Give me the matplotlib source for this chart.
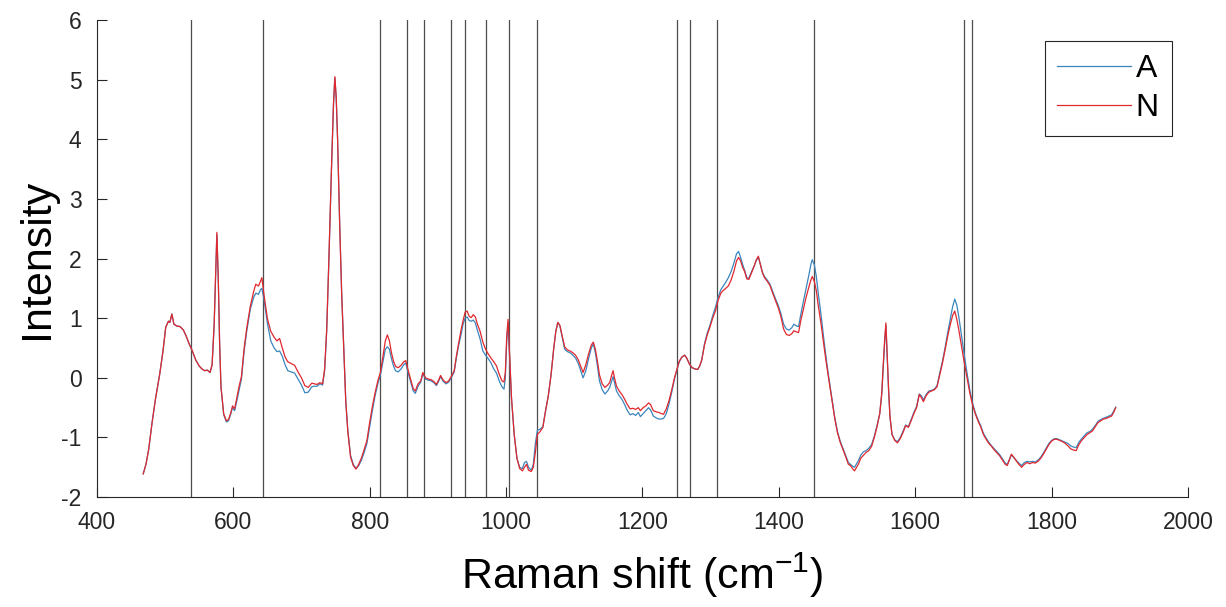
import numpy as np
import matplotlib.pyplot as plt

plt.rcParams['font.family'] = ['Liberation Sans', 'DejaVu Sans']
plt.rcParams['mathtext.default'] = 'regular'
plt.rcParams['axes.unicode_minus'] = False

# Raman shift (cm^-1)
shift = np.array([
    468, 472, 476, 481, 486, 492, 497, 501, 505, 507,
    510, 513, 517, 522, 527, 531, 535, 540, 545, 550,
    554, 558, 562, 566, 569, 572, 574, 576, 578, 580,
    582, 586, 590, 593, 596, 599, 602, 605, 609, 612,
    616, 620, 625, 630, 633, 637, 640, 642, 645, 650,
    655, 660, 664, 668, 672, 676, 680, 685, 690, 695,
    700, 705, 710, 715, 719, 723, 727, 731, 734, 737,
    740, 744, 747, 749, 751, 753, 756, 759, 762, 765,
    768, 772, 776, 780, 784, 788, 792, 796, 800, 804,
    808, 812, 816, 820, 823, 826, 829, 832, 835, 838,
    842, 846, 850, 853, 856, 860, 864, 867, 871, 875,
    878, 882, 886, 890, 894, 898, 901, 904, 908, 912,
    916, 920, 924, 927, 930, 934, 937, 940, 943, 946,
    949, 952, 955, 958, 962, 966, 970, 974, 978, 982,
    986, 990, 994, 997, 999, 1001, 1003, 1005, 1008, 1012,
    1016, 1020, 1024, 1027, 1030, 1033, 1037, 1040, 1043, 1046,
    1050, 1054, 1058, 1062, 1066, 1070, 1073, 1076, 1079, 1082,
    1086, 1090, 1094, 1098, 1102, 1106, 1110, 1113, 1117, 1121,
    1125, 1128, 1131, 1134, 1137, 1141, 1145, 1149, 1152, 1155,
    1157, 1159, 1162, 1166, 1170, 1174, 1178, 1182, 1186, 1190,
    1194, 1197, 1201, 1205, 1209, 1212, 1216, 1220, 1224, 1228,
    1231, 1235, 1239, 1243, 1247, 1250, 1254, 1258, 1262, 1265,
    1269, 1273, 1277, 1281, 1284, 1287, 1291, 1295, 1299, 1303,
    1307, 1311, 1315, 1318, 1322, 1326, 1330, 1334, 1338, 1341,
    1344, 1347, 1350, 1353, 1356, 1360, 1364, 1367, 1370, 1373,
    1376, 1379, 1383, 1387, 1391, 1395, 1399, 1403, 1407, 1411,
    1415, 1419, 1422, 1426, 1429, 1432, 1436, 1440, 1444, 1447,
    1449, 1452, 1455, 1458, 1462, 1466, 1470, 1474, 1478, 1482,
    1486, 1490, 1494, 1498, 1502, 1505, 1508, 1511, 1514, 1517,
    1520, 1524, 1528, 1532, 1536, 1540, 1544, 1548, 1551, 1553,
    1555, 1557, 1559, 1561, 1563, 1566, 1570, 1574, 1578, 1582,
    1586, 1590, 1594, 1598, 1602, 1606, 1609, 1612, 1616, 1620,
    1624, 1628, 1632, 1636, 1640, 1644, 1648, 1652, 1655, 1658,
    1661, 1664, 1668, 1672, 1676, 1680, 1684, 1688, 1692, 1696,
    1700, 1704, 1708, 1712, 1716, 1720, 1724, 1728, 1732, 1735,
    1738, 1741, 1744, 1748, 1752, 1756, 1760, 1764, 1768, 1772,
    1776, 1780, 1784, 1788, 1792, 1796, 1800, 1804, 1808, 1812,
    1816, 1820, 1824, 1828, 1832, 1836, 1840, 1844, 1848, 1852,
    1856, 1860, 1864, 1868, 1872, 1876, 1880, 1884, 1888, 1891,
    1894])

inten_A = np.array([
    -1.61, -1.45, -1.20, -0.75, -0.35, 0.05, 0.45, 0.85, 0.95, 0.93,
    1.07, 0.90, 0.87, 0.86, 0.80, 0.70, 0.58, 0.45, 0.30, 0.20,
    0.15, 0.12, 0.13, 0.09, 0.22, 0.88, 1.66, 2.40, 1.66, 0.58,
    -0.15, -0.62, -0.74, -0.72, -0.62, -0.50, -0.55, -0.40, -0.18, -0.02,
    0.45, 0.80, 1.15, 1.35, 1.42, 1.40, 1.48, 1.50, 1.32, 0.92,
    0.62, 0.50, 0.44, 0.45, 0.36, 0.22, 0.12, 0.10, 0.08, -0.02,
    -0.12, -0.25, -0.24, -0.15, -0.14, -0.14, -0.10, -0.12, 0.12, 0.78,
    1.88, 3.48, 4.58, 5.03, 4.68, 4.00, 2.62, 1.42, 0.52, -0.38,
    -0.88, -1.30, -1.45, -1.52, -1.47, -1.38, -1.25, -1.10, -0.82, -0.55,
    -0.30, -0.10, 0.06, 0.30, 0.48, 0.52, 0.48, 0.32, 0.20, 0.12,
    0.10, 0.15, 0.22, 0.25, 0.10, -0.06, -0.22, -0.26, -0.14, -0.07,
    0.07, -0.02, -0.04, -0.05, -0.08, -0.13, -0.06, 0.02, -0.06, -0.10,
    -0.07, 0.01, 0.10, 0.32, 0.52, 0.72, 0.90, 1.00, 1.02, 0.96,
    0.95, 0.97, 0.92, 0.80, 0.65, 0.45, 0.38, 0.32, 0.25, 0.15,
    0.08, -0.05, -0.15, -0.19, 0.00, 0.60, 0.92, 0.40, -0.35, -0.95,
    -1.35, -1.50, -1.52, -1.42, -1.40, -1.50, -1.55, -1.45, -1.10, -0.88,
    -0.86, -0.82, -0.55, -0.30, 0.05, 0.50, 0.78, 0.93, 0.87, 0.70,
    0.48, 0.44, 0.42, 0.38, 0.33, 0.24, 0.10, 0.00, 0.12, 0.32,
    0.50, 0.57, 0.42, 0.20, -0.05, -0.20, -0.27, -0.22, -0.16, -0.05,
    0.02, -0.08, -0.22, -0.30, -0.36, -0.45, -0.55, -0.62, -0.60, -0.63,
    -0.58, -0.65, -0.60, -0.55, -0.50, -0.54, -0.64, -0.67, -0.69, -0.69,
    -0.68, -0.60, -0.44, -0.24, -0.02, 0.11, 0.27, 0.35, 0.38, 0.33,
    0.23, 0.17, 0.15, 0.14, 0.20, 0.30, 0.57, 0.75, 0.88, 1.04,
    1.18, 1.35, 1.48, 1.53, 1.60, 1.68, 1.78, 1.92, 2.08, 2.12,
    2.02, 1.90, 1.80, 1.68, 1.67, 1.78, 1.88, 1.97, 2.02, 1.90,
    1.77, 1.70, 1.64, 1.57, 1.45, 1.33, 1.22, 1.08, 0.90, 0.82,
    0.80, 0.84, 0.90, 0.87, 0.86, 1.05, 1.28, 1.50, 1.72, 1.90,
    1.98, 1.90, 1.70, 1.40, 1.05, 0.65, 0.28, -0.05, -0.36, -0.66,
    -0.90, -1.06, -1.18, -1.30, -1.42, -1.45, -1.48, -1.50, -1.44, -1.38,
    -1.30, -1.24, -1.22, -1.18, -1.12, -0.98, -0.80, -0.60, -0.27, 0.15,
    0.55, 0.88, 0.32, -0.22, -0.66, -0.95, -1.04, -1.07, -1.00, -0.90,
    -0.79, -0.82, -0.70, -0.58, -0.48, -0.27, -0.30, -0.37, -0.28, -0.22,
    -0.21, -0.19, -0.13, 0.08, 0.28, 0.52, 0.78, 1.02, 1.20, 1.32,
    1.22, 1.02, 0.70, 0.38, 0.08, -0.20, -0.42, -0.58, -0.70, -0.80,
    -0.93, -1.01, -1.08, -1.14, -1.19, -1.24, -1.29, -1.36, -1.43, -1.45,
    -1.37, -1.29, -1.33, -1.38, -1.43, -1.47, -1.42, -1.40, -1.41, -1.40,
    -1.41, -1.38, -1.33, -1.26, -1.18, -1.10, -1.05, -1.02, -1.02, -1.04,
    -1.06, -1.08, -1.10, -1.14, -1.16, -1.17, -1.08, -1.02, -0.97, -0.92,
    -0.90, -0.86, -0.80, -0.73, -0.70, -0.68, -0.66, -0.64, -0.62, -0.56,
    -0.49])

inten_N = np.array([
    -1.61, -1.45, -1.20, -0.75, -0.35, 0.05, 0.45, 0.85, 0.95, 0.93,
    1.07, 0.90, 0.87, 0.86, 0.80, 0.70, 0.58, 0.45, 0.30, 0.20,
    0.15, 0.12, 0.13, 0.09, 0.22, 0.90, 1.70, 2.44, 1.70, 0.60,
    -0.15, -0.60, -0.72, -0.70, -0.60, -0.47, -0.52, -0.35, -0.12, 0.02,
    0.50, 0.85, 1.20, 1.45, 1.57, 1.54, 1.62, 1.68, 1.40, 1.00,
    0.78, 0.68, 0.62, 0.66, 0.50, 0.35, 0.27, 0.24, 0.21, 0.10,
    0.00, -0.13, -0.16, -0.09, -0.10, -0.11, -0.08, -0.10, 0.15, 0.80,
    1.90, 3.50, 4.60, 5.05, 4.70, 4.00, 2.60, 1.40, 0.50, -0.40,
    -0.90, -1.33, -1.47, -1.53, -1.45, -1.34, -1.20, -1.05, -0.75, -0.48,
    -0.25, -0.05, 0.10, 0.40, 0.62, 0.72, 0.62, 0.42, 0.28, 0.19,
    0.17, 0.21, 0.27, 0.29, 0.15, -0.02, -0.18, -0.22, -0.10, -0.05,
    0.09, 0.00, -0.02, -0.03, -0.06, -0.11, -0.04, 0.04, -0.04, -0.08,
    -0.05, 0.03, 0.12, 0.35, 0.55, 0.80, 0.96, 1.10, 1.12, 1.03,
    1.01, 1.06, 1.02, 0.90, 0.78, 0.60, 0.48, 0.40, 0.33, 0.27,
    0.20, 0.06, -0.05, -0.07, 0.10, 0.70, 0.98, 0.45, -0.33, -0.95,
    -1.35, -1.52, -1.56, -1.50, -1.45, -1.55, -1.57, -1.50, -1.25, -0.95,
    -0.90, -0.83, -0.55, -0.30, 0.05, 0.50, 0.78, 0.93, 0.88, 0.72,
    0.52, 0.47, 0.45, 0.42, 0.38, 0.30, 0.18, 0.09, 0.22, 0.40,
    0.55, 0.60, 0.48, 0.28, 0.05, -0.10, -0.16, -0.12, -0.08, 0.05,
    0.12, 0.00, -0.14, -0.22, -0.28, -0.36, -0.45, -0.52, -0.51, -0.53,
    -0.50, -0.55, -0.50, -0.47, -0.42, -0.45, -0.55, -0.57, -0.58, -0.60,
    -0.61, -0.52, -0.38, -0.20, 0.00, 0.12, 0.28, 0.35, 0.38, 0.33,
    0.23, 0.17, 0.15, 0.14, 0.20, 0.30, 0.55, 0.72, 0.85, 1.00,
    1.12, 1.30, 1.42, 1.46, 1.50, 1.54, 1.64, 1.78, 1.96, 2.02,
    1.96, 1.85, 1.78, 1.66, 1.65, 1.76, 1.88, 1.98, 2.04, 1.90,
    1.76, 1.68, 1.62, 1.55, 1.42, 1.30, 1.18, 1.03, 0.82, 0.73,
    0.71, 0.74, 0.79, 0.77, 0.76, 0.95, 1.15, 1.35, 1.52, 1.64,
    1.70, 1.62, 1.46, 1.20, 0.90, 0.55, 0.22, -0.08, -0.38, -0.68,
    -0.92, -1.08, -1.20, -1.32, -1.45, -1.47, -1.52, -1.56, -1.50, -1.44,
    -1.35, -1.30, -1.25, -1.22, -1.15, -1.00, -0.82, -0.60, -0.25, 0.20,
    0.60, 0.92, 0.35, -0.20, -0.65, -0.95, -1.05, -1.09, -1.02, -0.92,
    -0.80, -0.83, -0.72, -0.60, -0.50, -0.28, -0.33, -0.40, -0.30, -0.24,
    -0.22, -0.20, -0.15, 0.05, 0.25, 0.48, 0.72, 0.92, 1.05, 1.12,
    0.98, 0.80, 0.52, 0.25, 0.00, -0.25, -0.45, -0.60, -0.72, -0.82,
    -0.95, -1.03, -1.10, -1.15, -1.21, -1.26, -1.31, -1.38, -1.45, -1.47,
    -1.38, -1.28, -1.32, -1.39, -1.45, -1.50, -1.45, -1.42, -1.44, -1.42,
    -1.43, -1.40, -1.35, -1.28, -1.20, -1.12, -1.06, -1.03, -1.03, -1.05,
    -1.07, -1.10, -1.14, -1.19, -1.21, -1.22, -1.12, -1.05, -1.00, -0.95,
    -0.92, -0.89, -0.82, -0.75, -0.72, -0.69, -0.68, -0.66, -0.64, -0.58,
    -0.50])

# marked band positions
bands = [538, 643, 815, 855, 880, 920, 940, 970, 1005, 1045,
         1250, 1270, 1310, 1451, 1671, 1683]

fig, ax = plt.subplots(figsize=(12.26, 6.07), dpi=100)
fig.subplots_adjust(left=0.079, right=0.969, bottom=0.181, top=0.967)

for b in bands:
    ax.axvline(b, color='#4d4d4d', lw=0.9, zorder=1)

ax.plot(shift, inten_A, color='#3a86bd', lw=0.9, label='A', zorder=2)
ax.plot(shift, inten_N, color='#e0282e', lw=0.9, label='N', zorder=3)

ax.set_xlim(400, 2000)
ax.set_ylim(-2, 6)
ax.set_xticks(np.arange(400, 2001, 200))
ax.set_yticks(np.arange(-2, 7, 1))

for side in ['top', 'right']:
    ax.spines[side].set_visible(False)
for side in ['left', 'bottom']:
    ax.spines[side].set_color('#262626')
    ax.spines[side].set_linewidth(0.8)

ax.tick_params(direction='in', length=7, width=0.8, labelsize=16.5,
               colors='#262626')
ax.tick_params(axis='x', pad=10)
ax.tick_params(axis='y', pad=11)
ax.set_xlabel('Raman shift (cm$^{-1}$)', fontsize=31, labelpad=12)
ax.set_ylabel('Intensity', fontsize=31, labelpad=3)

leg = ax.legend(loc='upper right', bbox_to_anchor=(0.985, 0.956),
                borderaxespad=0, fontsize=23, handlelength=2.3,
                handletextpad=0.15, borderpad=0.4, labelspacing=0.28,
                fancybox=False, framealpha=1, edgecolor='#262626')
leg.get_frame().set_linewidth(0.8)

fig.savefig('out.png', dpi=100)
